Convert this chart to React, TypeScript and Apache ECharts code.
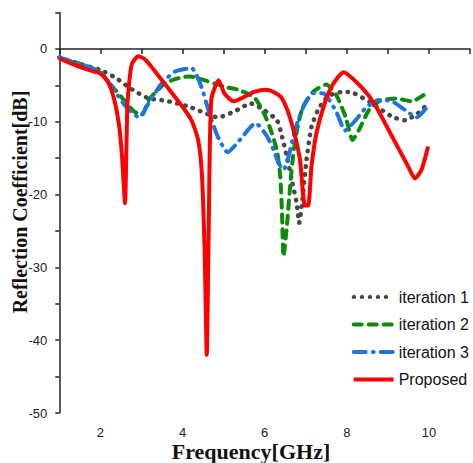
import React, { useEffect, useRef } from "react";
import * as echarts from "echarts";

const seriesNames = ["iteration 1", "iteration 2", "iteration 3", "Proposed"];

const iter1Freq = [1, 1.58, 2, 2.38, 2.78, 3.18, 3.58, 4.14, 4.54, 4.86, 5.26, 5.66, 5.98, 6.3, 6.42, 6.54, 6.66, 6.78, 6.84, 6.9, 7.02, 7.14, 7.3, 7.54, 7.9, 8.14, 8.62, 9.1, 9.42, 9.74, 9.98];
const iter1Vals = [-1.2, -2.2, -2.9, -4.0, -5.6, -6.8, -7.1, -7.9, -8.8, -9.4, -8.6, -7.5, -8.4, -9.8, -12, -14.8, -18, -21.2, -23.9, -21.7, -15.2, -10.7, -8.4, -6.5, -5.9, -6, -7.5, -9.3, -9.8, -8.8, -7.5];

const iter2Freq = [1, 1.58, 2, 2.22, 2.54, 2.82, 3.02, 3.18, 3.58, 3.98, 4.2, 4.54, 5.02, 5.34, 5.74, 5.98, 6.14, 6.3, 6.38, 6.42, 6.46, 6.54, 6.62, 6.7, 6.82, 6.94, 7.18, 7.5, 7.74, 7.98, 8.14, 8.3, 8.54, 8.78, 9.18, 9.58, 9.98];
const iter2Vals = [-1.2, -2.2, -3.2, -4.7, -6.8, -8.6, -9.0, -7.0, -4.7, -3.9, -3.8, -4.3, -5.2, -5.6, -6.6, -8.8, -11, -14, -17.5, -22.1, -28.5, -24.4, -18.9, -14.3, -10.2, -7.9, -5.9, -4.9, -6.3, -9.5, -12.5, -11.1, -8.4, -7.2, -6.8, -7.2, -5.9];

const iter3Freq = [1, 1.58, 2, 2.3, 2.62, 2.94, 3.2, 3.5, 3.82, 4.22, 4.46, 4.62, 4.84, 5.1, 5.38, 5.78, 6.06, 6.22, 6.34, 6.46, 6.58, 6.7, 6.82, 6.98, 7.18, 7.42, 7.74, 7.96, 8.22, 8.46, 8.78, 9.1, 9.42, 9.7, 9.98];
const iter3Vals = [-1.2, -2.2, -3.2, -5.4, -7.9, -9.4, -7.2, -4.7, -3.1, -2.65, -5.2, -8.2, -11.8, -14.2, -12.6, -10.2, -12, -13.9, -15.7, -16.6, -14.8, -12, -9.75, -7.5, -6.1, -6.1, -8.6, -11.2, -9.75, -8.1, -7, -7.2, -8.4, -9.4, -7.8];

const propFreq = [1, 1.58, 2, 2.18, 2.34, 2.46, 2.53, 2.6, 2.66, 2.76, 2.92, 3.1, 3.5, 3.98, 4.22, 4.38, 4.47, 4.54, 4.59, 4.64, 4.7, 4.88, 5.02, 5.24, 5.74, 6.06, 6.38, 6.54, 6.7, 6.86, 6.98, 7.06, 7.14, 7.26, 7.46, 7.66, 7.92, 8.38, 8.7, 9.1, 9.5, 9.66, 9.82, 9.98];
const propVals = [-1.3, -2.65, -3.4, -4.5, -7, -10.7, -15, -21.2, -7.5, -2.2, -1.0, -1.5, -4.3, -7.8, -9.8, -12.5, -17, -28, -42, -24, -7, -4.3, -6.1, -7.2, -5.9, -5.6, -6.5, -8.2, -11.1, -15.2, -21.5, -21.5, -16.2, -11.6, -7.5, -4.9, -3.2, -5.4, -7.8, -12, -16.2, -17.8, -16.6, -13.4];

const xTitle = "Frequency[GHz]";
const yTitle = "Reflection Coefficient[dB]";

const zip = (xs: number[], ys: number[]) => xs.map((x, i) => [x, ys[i]]);

export default function App() {
  const ref = useRef<HTMLDivElement>(null);
  useEffect(() => {
    if (!ref.current) return;
    const chart = echarts.init(ref.current, null, { renderer: "svg" });
    const axisColor = "#222";
    chart.setOption({
      animation: false,
      backgroundColor: "#fff",
      grid: { left: 59.3, top: 12.5, width: 416.7, height: 400.5, containLabel: false },
      xAxis: {
        type: "value",
        min: 1,
        max: 11,
        interval: 1,
        axisLine: { lineStyle: { color: axisColor, width: 1.5 } },
        axisTick: { show: true, inside: false, length: 5, lineStyle: { color: axisColor, width: 1.5 } },
        axisLabel: {
          margin: 13,
          fontSize: 13,
          fontFamily: "Liberation Sans, Arial, sans-serif",
          color: "#222",
          formatter: (v: number) => (v % 2 === 0 && v <= 10 ? String(v) : ""),
        },
        splitLine: { show: false },
      },
      yAxis: {
        type: "value",
        min: -50,
        max: 5,
        interval: 5,
        axisLine: { show: true, lineStyle: { color: axisColor, width: 1.5 } },
        axisTick: { show: true, inside: false, length: 4, lineStyle: { color: axisColor, width: 1.5 } },
        axisLabel: {
          margin: 12,
          fontSize: 13,
          fontFamily: "Liberation Sans, Arial, sans-serif",
          color: "#222",
          formatter: (v: number) => (v % 10 === 0 && v <= 0 ? String(v) : ""),
        },
        splitLine: { show: false },
      },
      legend: {
        orient: "vertical",
        left: 351.7,
        top: 289,
        padding: 0,
        itemWidth: 40,
        itemHeight: 14,
        itemGap: 11.5,
        itemStyle: { opacity: 0 },
        lineStyle: { width: 4 },
        textStyle: { fontSize: 16, fontFamily: "Liberation Sans, Arial, sans-serif", color: "#111" },
        data: seriesNames,
      },
      graphic: [
        {
          type: "text",
          x: 251,
          y: 451,
          style: {
            text: xTitle,
            font: "bold 22px 'Liberation Serif', 'Times New Roman', serif",
            fill: "#111",
            textAlign: "center",
            textVerticalAlign: "middle",
          },
        },
        {
          type: "text",
          x: 20,
          y: 202,
          rotation: Math.PI / 2,
          style: {
            text: yTitle,
            font: "bold 20px 'Liberation Serif', 'Times New Roman', serif",
            fill: "#111",
            textAlign: "center",
            textVerticalAlign: "middle",
          },
        },
      ],
      series: [
        {
          name: seriesNames[0],
          type: "line",
          data: zip(iter1Freq, iter1Vals),
          showSymbol: false,
          symbol: "none",
          smooth: 0.2,
          lineStyle: { color: "#474747", width: 4.5, type: [0.5, 7.5], cap: "round" },
          itemStyle: { color: "#474747" },
        },
        {
          name: seriesNames[1],
          type: "line",
          data: zip(iter2Freq, iter2Vals),
          showSymbol: false,
          symbol: "none",
          smooth: 0.2,
          lineStyle: { color: "#0a8c0a", width: 4, type: [8, 7], cap: "round" },
          itemStyle: { color: "#0a8c0a" },
        },
        {
          name: seriesNames[2],
          type: "line",
          data: zip(iter3Freq, iter3Vals),
          showSymbol: false,
          symbol: "none",
          smooth: 0.2,
          lineStyle: { color: "#1f74e0", width: 4, type: [12, 7, 1, 7], cap: "round" },
          itemStyle: { color: "#1f74e0" },
        },
        {
          name: seriesNames[3],
          type: "line",
          data: zip(propFreq, propVals),
          showSymbol: false,
          symbol: "none",
          smooth: 0.2,
          lineStyle: { color: "#ff0000", width: 4 },
          itemStyle: { color: "#ff0000" },
        },
      ],
    });
    return () => chart.dispose();
  }, []);
  return (
    <div
      ref={ref}
      style={{ position: "absolute", left: 0, top: 0, width: 473, height: 463 }}
    />
  );
}
